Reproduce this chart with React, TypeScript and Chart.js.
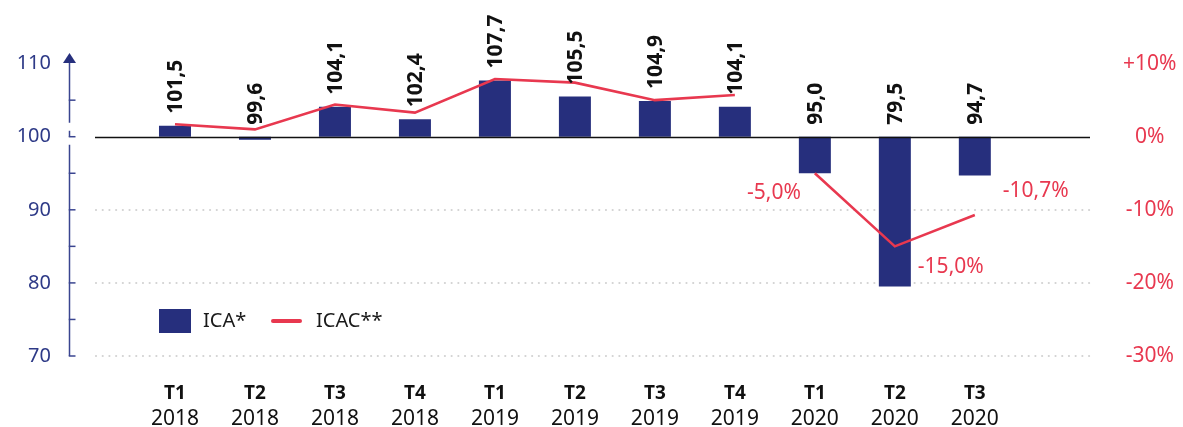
import { useEffect, useRef } from 'react';
import { Chart, registerables } from 'chart.js';

Chart.register(...registerables);

const QUARTERS = ['T1', 'T2', 'T3', 'T4', 'T1', 'T2', 'T3', 'T4', 'T1', 'T2', 'T3'];
const YEARS = ['2018', '2018', '2018', '2018', '2019', '2019', '2019', '2019', '2020', '2020', '2020'];
const ICA = [101.5, 99.6, 104.1, 102.4, 107.7, 105.5, 104.9, 104.1, 95.0, 79.5, 94.7];
const ICAC = [1.7, 1.0, 4.4, 3.3, 7.9, 7.4, 5.0, 5.7, -5.0, -15.0, -10.7];
const LEFT_TICKS = [70, 80, 90, 100, 110];
const RIGHT_TICKS = [-30, -20, -10, 0, 10];
const BASE = 100;
const ICAC_BREAK_AFTER = 7;
const ICAC_LABELLED = [8, 9, 10];

const NAVY = '#262f7d';
const AXIS_BLUE = '#3a4590';
const TEXT_BLUE = '#2e3a87';
const RED = '#e8384f';
const FONT = "'Noto Sans', sans-serif";

const fmt = (v: number) => v.toFixed(1).replace('.', ',');

// label placement (px) for the annotated ICAC points: dx, dy, align
const ICAC_LABEL_OFFSETS: Record<number, [number, number, CanvasTextAlign]> = {
  8: [-14, 20, 'right'],
  9: [23, 21, 'left'],
  10: [28, -24, 'left'],
};

const noPad = (s: any) => {
  s.paddingTop = 0;
  s.paddingBottom = 0;
  s.paddingLeft = 0;
  s.paddingRight = 0;
};

const decoPlugin = {
  id: 'deco',
  beforeDatasetsDraw(chart: any) {
    const { ctx, chartArea: a, scales } = chart;
    const y = scales.y;
    ctx.save();
    ctx.strokeStyle = '#d2d2d2';
    ctx.lineWidth = 2.2;
    ctx.lineCap = 'round';
    ctx.setLineDash([0.01, 6.7]);
    LEFT_TICKS.filter((v) => v < BASE).forEach((v) => {
      const py = Math.round(y.getPixelForValue(v));
      ctx.beginPath();
      ctx.moveTo(a.left + 1, py);
      ctx.lineTo(a.right, py);
      ctx.stroke();
    });
    ctx.setLineDash([]);
    ctx.lineCap = 'butt';

    const ax = a.left - 25.5;
    const yBase = y.getPixelForValue(BASE);
    const yMin = y.getPixelForValue(LEFT_TICKS[0]);
    const tip = a.top + 4;
    const yTop = tip + 9;
    ctx.strokeStyle = AXIS_BLUE;
    ctx.lineWidth = 1.5;
    ctx.beginPath();
    ctx.moveTo(ax, yMin);
    ctx.lineTo(ax, yBase + 8);
    ctx.moveTo(ax, yBase - 14);
    ctx.lineTo(ax, yTop);
    ctx.moveTo(ax, yBase - 6);
    ctx.lineTo(ax, yBase);
    ctx.stroke();
    for (let v = LEFT_TICKS[0]; v < LEFT_TICKS[LEFT_TICKS.length - 1]; v += 5) {
      const py = y.getPixelForValue(v);
      ctx.beginPath();
      ctx.moveTo(ax - 0.75, py);
      ctx.lineTo(ax + 6, py);
      ctx.stroke();
    }
    ctx.fillStyle = NAVY;
    ctx.beginPath();
    ctx.moveTo(ax, tip);
    ctx.lineTo(ax - 6.5, yTop + 1);
    ctx.lineTo(ax + 6.5, yTop + 1);
    ctx.closePath();
    ctx.fill();
    ctx.restore();
  },
  afterDatasetsDraw(chart: any) {
    const { ctx, chartArea: a, scales } = chart;
    const x = scales.x;
    const y = scales.y;
    const y1 = scales.y1;
    ctx.save();
    const yBase = Math.round(y.getPixelForValue(BASE)) + 0.5;
    ctx.strokeStyle = '#111';
    ctx.lineWidth = 1.6;
    ctx.beginPath();
    ctx.moveTo(a.left, yBase);
    ctx.lineTo(a.right, yBase);
    ctx.stroke();

    // ICA value labels (rotated)
    ctx.fillStyle = '#111';
    ctx.font = `bold 21px ${FONT}`;
    ctx.textAlign = 'left';
    ctx.textBaseline = 'middle';
    ICA.forEach((v, i) => {
      const px = x.getPixelForValue(i);
      const py = y.getPixelForValue(Math.max(v, BASE)) - 12;
      ctx.save();
      ctx.translate(px + 1, py);
      ctx.rotate(-Math.PI / 2);
      ctx.fillText(fmt(v), 0, 0);
      ctx.restore();
    });

    // ICAC labels
    ctx.fillStyle = RED;
    ctx.font = `21px ${FONT}`;
    ICAC_LABELLED.forEach((i) => {
      const [dx, dy, al] = ICAC_LABEL_OFFSETS[i];
      ctx.textAlign = al;
      ctx.fillText(fmt(ICAC[i]) + '%', x.getPixelForValue(i) + dx, y1.getPixelForValue(ICAC[i]) + dy);
    });

    // legend
    const ds = chart.data.datasets;
    const ly = a.bottom - 35;
    ctx.textAlign = 'left';
    ctx.font = `20px ${FONT}`;
    ctx.fillStyle = ds[1].backgroundColor;
    ctx.fillRect(a.left + 64, ly - 12, 32, 24);
    ctx.fillStyle = '#1a1a1a';
    ctx.fillText(ds[1].label, a.left + 108, ly);
    ctx.strokeStyle = ds[0].borderColor;
    ctx.lineWidth = 4;
    ctx.lineCap = 'round';
    ctx.beginPath();
    ctx.moveTo(a.left + 178, ly);
    ctx.lineTo(a.left + 205, ly);
    ctx.stroke();
    ctx.fillText(ds[0].label, a.left + 221, ly);
    ctx.restore();
  },
};

export default function App() {
  const ref = useRef<HTMLCanvasElement | null>(null);
  useEffect(() => {
    document.body.style.margin = '0';
    const canvas = ref.current;
    if (!canvas) return;
    const idx = QUARTERS.map((_, i) => i);
    const chart = new Chart(canvas, {
      data: {
        datasets: [
          {
            type: 'line',
            label: 'ICAC**',
            data: idx.map((i) => ({ x: i, y: ICAC[i] })),
            yAxisID: 'y1',
            xAxisID: 'x',
            borderColor: RED,
            borderWidth: 2.6,
            pointRadius: 0,
            tension: 0,
            order: 0,
            segment: {
              borderColor: (c: any) => (c.p0DataIndex === ICAC_BREAK_AFTER ? 'rgba(0,0,0,0)' : RED),
            },
          },
          {
            type: 'bar',
            label: 'ICA*',
            data: idx.map((i) => ({ x: i, y: [BASE, ICA[i]] })),
            yAxisID: 'y',
            xAxisID: 'x',
            backgroundColor: NAVY,
            categoryPercentage: 0.4,
            barPercentage: 1,
            order: 1,
          },
        ],
      } as any,
      options: {
        responsive: false,
        animation: false,
        events: [],
        layout: { padding: { top: 49, bottom: 2, left: 0, right: 0 } },
        plugins: { legend: { display: false }, tooltip: { enabled: false } },
        scales: {
          x: {
            type: 'linear',
            position: 'bottom',
            offset: false,
            min: -1,
            max: 11.44,
            weight: 0,
            grid: { display: false, drawTicks: false, offset: false },
            border: { display: false },
            afterBuildTicks: (s: any) => {
              s.ticks = QUARTERS.map((_, i) => ({ value: i }));
            },
            afterFit: (s: any) => {
              s.height = 44;
              noPad(s);
            },
            ticks: {
              autoSkip: false,
              maxRotation: 0,
              padding: 26,
              color: '#111',
              font: { family: FONT, size: 19, weight: 'bold' },
              callback: (v: any) => QUARTERS[v] ?? '',
            },
          },
          x2: {
            type: 'linear',
            position: 'bottom',
            offset: false,
            min: -1,
            max: 11.44,
            weight: 1,
            grid: { display: false, drawTicks: false, offset: false },
            border: { display: false },
            afterBuildTicks: (s: any) => {
              s.ticks = YEARS.map((_, i) => ({ value: i }));
            },
            afterFit: (s: any) => {
              s.height = 25;
              noPad(s);
            },
            ticks: {
              autoSkip: false,
              maxRotation: 0,
              padding: 6,
              color: '#111',
              font: { family: FONT, size: 21 },
              callback: (v: any) => YEARS[v] ?? '',
            },
          },
          y: {
            type: 'linear',
            position: 'left',
            min: 70,
            max: 112,
            grid: { display: false, drawTicks: false },
            border: { display: false },
            afterBuildTicks: (s: any) => {
              s.ticks = LEFT_TICKS.map((v) => ({ value: v }));
            },
            afterFit: (s: any) => {
              s.width = 95;
              noPad(s);
            },
            ticks: {
              padding: 44,
              color: TEXT_BLUE,
              font: { family: FONT, size: 20 },
            },
          },
          y1: {
            type: 'linear',
            position: 'right',
            min: -30,
            max: 12,
            grid: { display: false, drawTicks: false },
            border: { display: false },
            afterBuildTicks: (s: any) => {
              s.ticks = RIGHT_TICKS.map((v) => ({ value: v }));
            },
            afterFit: (s: any) => {
              s.width = 93;
              noPad(s);
            },
            ticks: {
              padding: 33,
              crossAlign: 'center',
              color: RED,
              font: { family: FONT, size: 21 },
              callback: (v: any) => (v > 0 ? '+' : '') + v + '%',
            },
          },
        },
      } as any,
      plugins: [decoPlugin],
    });
    return () => chart.destroy();
  }, []);
  return (
    <div style={{ width: 1183, height: 427 }}>
      <canvas ref={ref} width={1183} height={427} />
    </div>
  );
}
